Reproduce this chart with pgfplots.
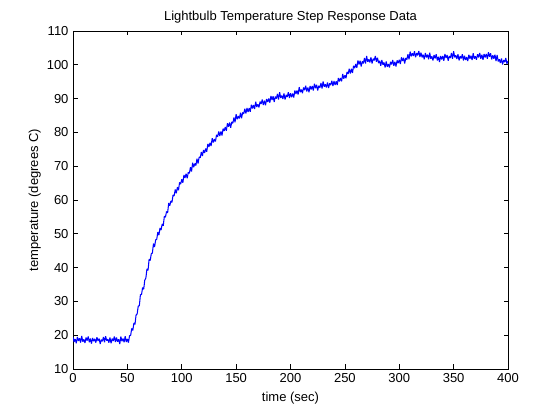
\documentclass[border=0pt]{standalone}
\usepackage{fontspec}
\setmainfont{Liberation Sans}
\usepackage{pgfplots}
\pgfplotsset{compat=1.18}
\begin{document}
\fontsize{13}{15.6}\selectfont
\begin{tikzpicture}
\useasboundingbox (0,0) rectangle (560pt,414pt);
\begin{axis}[
  at={(73pt,45pt)}, anchor=south west,
  scale only axis, width=435pt, height=338pt,
  xmin=0, xmax=400, ymin=10, ymax=110,
  xtick={0,50,...,400}, ytick={10,20,...,110},
  tick align=inside, xtick pos=both, ytick pos=both,
  major tick length=4.5pt,
  axis line style={line width=0.7pt, black},
  every tick/.style={black, line width=0.7pt},
  /pgf/number format/assume math mode=true,
  title={Lightbulb Temperature Step Response Data},
  title style={yshift=-3pt},
  xlabel={time (sec)},
  ylabel={temperature (degrees C)},
  ylabel shift=-3pt,
]
\addplot[color={rgb,255:red,0;green,0;blue,255}, line width=1.05pt, line join=bevel] coordinates {
(0,19.4)(1,18.0)(2,18.9)(3,17.6)(4,19.5)(5,18.3)(6,19.1)(7,17.8)(8,19.8)(9,18.1)
(10,18.8)(11,17.7)(12,19.3)(13,18.4)(14,19.6)(15,17.9)(16,19.0)(17,17.5)(18,19.2)(19,18.2)
(20,18.9)(21,17.8)(22,19.4)(23,18.3)(24,19.0)(25,17.4)(26,18.7)(27,18.2)(28,19.5)(29,17.9)
(30,19.7)(31,18.4)(32,18.8)(33,17.8)(34,19.3)(35,17.6)(36,19.0)(37,18.3)(38,19.6)(39,18.0)
(40,19.3)(41,18.1)(42,18.8)(43,17.4)(44,19.6)(45,18.2)(46,19.0)(47,17.9)(48,19.7)(49,18.0)
(50,18.9)(51,17.8)(52,19.9)(53,19.9)(54,22.0)(55,21.4)(56,23.6)(57,23.2)(58,26.0)(59,26.3)
(60,28.6)(61,28.7)(62,32.0)(63,32.0)(64,34.1)(65,33.6)(66,36.3)(67,36.9)(68,39.6)(69,39.2)
(70,42.5)(71,42.1)(72,44.1)(73,44.3)(74,47.1)(75,46.1)(76,48.2)(77,48.4)(78,50.5)(79,49.6)
(80,51.7)(81,51.1)(82,52.9)(83,52.4)(84,55.2)(85,54.9)(86,56.6)(87,56.2)(88,59.1)(89,58.3)
(90,59.7)(91,59.3)(92,61.5)(93,61.2)(94,63.1)(95,62.0)(96,63.8)(97,62.9)(98,65.2)(99,64.7)
(100,66.1)(101,65.1)(102,67.4)(103,66.5)(104,67.8)(105,66.4)(106,68.2)(107,67.9)(108,69.7)(109,68.4)
(110,71.0)(111,69.7)(112,70.8)(113,70.2)(114,72.2)(115,70.8)(116,72.7)(117,72.5)(118,74.2)(119,73.0)
(120,74.8)(121,73.9)(122,75.2)(123,74.3)(124,76.6)(125,75.7)(126,76.9)(127,76.0)(128,78.3)(129,77.0)
(130,78.0)(131,77.3)(132,79.3)(133,78.7)(134,80.3)(135,78.9)(136,80.3)(137,79.1)(138,81.1)(139,80.4)
(140,81.6)(141,80.5)(142,82.7)(143,81.7)(144,82.9)(145,81.4)(146,83.1)(147,82.7)(148,84.4)(149,83.0)
(150,85.4)(151,83.9)(152,84.8)(153,84.1)(154,85.8)(155,84.2)(156,85.9)(157,85.5)(158,87.0)(159,85.6)
(160,87.2)(161,86.0)(162,87.2)(163,86.1)(164,88.2)(165,87.1)(166,88.1)(167,86.9)(168,89.1)(169,87.5)
(170,88.3)(171,87.4)(172,89.1)(173,88.4)(174,89.7)(175,88.1)(176,89.4)(177,88.0)(178,89.9)(179,89.0)
(180,90.0)(181,88.8)(182,90.8)(183,89.6)(184,90.7)(185,89.0)(186,90.6)(187,90.0)(188,91.4)(189,89.7)
(190,91.9)(191,90.2)(192,90.9)(193,89.9)(194,91.5)(195,89.7)(196,91.1)(197,90.5)(198,91.9)(199,90.2)
(200,91.6)(201,90.4)(202,91.5)(203,90.3)(204,92.4)(205,91.4)(206,92.4)(207,91.2)(208,93.4)(209,91.9)
(210,92.7)(211,91.6)(212,93.3)(213,92.5)(214,93.8)(215,92.1)(216,93.3)(217,91.9)(218,93.7)(219,92.7)
(220,93.7)(221,92.4)(222,94.4)(223,93.1)(224,94.1)(225,92.4)(226,93.8)(227,93.2)(228,94.6)(229,93.0)
(230,95.1)(231,93.5)(232,94.2)(233,93.3)(234,94.8)(235,93.1)(236,94.5)(237,94.0)(238,95.3)(239,93.7)
(240,95.2)(241,94.0)(242,95.1)(243,94.0)(244,96.1)(245,95.1)(246,96.1)(247,95.1)(248,97.3)(249,95.9)
(250,96.9)(251,96.0)(252,97.9)(253,97.3)(254,98.8)(255,97.4)(256,98.8)(257,97.6)(258,99.7)(259,99.0)
(260,100.2)(261,99.1)(262,101.3)(263,100.1)(264,101.2)(265,99.5)(266,101.0)(267,100.4)(268,102.0)(269,100.4)
(270,102.6)(271,100.9)(272,101.6)(273,100.7)(274,102.2)(275,100.4)(276,101.8)(277,101.3)(278,102.6)(279,100.9)
(280,102.1)(281,100.5)(282,101.2)(283,99.7)(284,101.4)(285,100.0)(286,100.7)(287,99.2)(288,101.0)(289,99.4)
(290,100.2)(291,99.2)(292,100.9)(293,100.1)(294,101.4)(295,99.7)(296,100.9)(297,99.5)(298,101.3)(299,100.5)
(300,101.5)(301,100.2)(302,102.2)(303,101.1)(304,102.1)(305,100.4)(306,102.0)(307,101.5)(308,103.1)(309,101.6)
(310,103.9)(311,102.5)(312,103.4)(313,102.6)(314,104.0)(315,102.2)(316,103.5)(317,102.8)(318,104.1)(319,102.3)
(320,103.6)(321,102.2)(322,103.0)(323,101.6)(324,103.5)(325,102.2)(326,103.0)(327,101.6)(328,103.6)(329,101.8)
(330,102.5)(331,101.3)(332,102.9)(333,101.9)(334,103.1)(335,101.3)(336,102.4)(337,100.8)(338,102.6)(339,101.6)
(340,102.6)(341,101.2)(342,103.2)(343,102.0)(344,102.9)(345,101.2)(346,102.6)(347,102.0)(348,103.5)(349,101.8)
(350,104.0)(351,102.2)(352,102.8)(353,101.7)(354,103.1)(355,101.3)(356,102.6)(357,101.9)(358,103.1)(359,101.3)
(360,102.7)(361,101.4)(362,102.3)(363,101.1)(364,103.0)(365,101.8)(366,102.7)(367,101.4)(368,103.4)(369,101.8)
(370,102.5)(371,101.5)(372,103.1)(373,102.2)(374,103.5)(375,101.8)(376,103.0)(377,101.5)(378,103.2)(379,102.2)
(380,103.2)(381,101.8)(382,103.7)(383,102.4)(384,103.4)(385,101.6)(386,102.8)(387,101.8)(388,103.0)(389,101.1)
(390,102.9)(391,101.0)(392,101.6)(393,100.5)(394,101.9)(395,100.1)(396,101.4)(397,100.8)(398,102.0)(399,100.3)
(400,101.1)
};
\end{axis}
\end{tikzpicture}
\end{document}
